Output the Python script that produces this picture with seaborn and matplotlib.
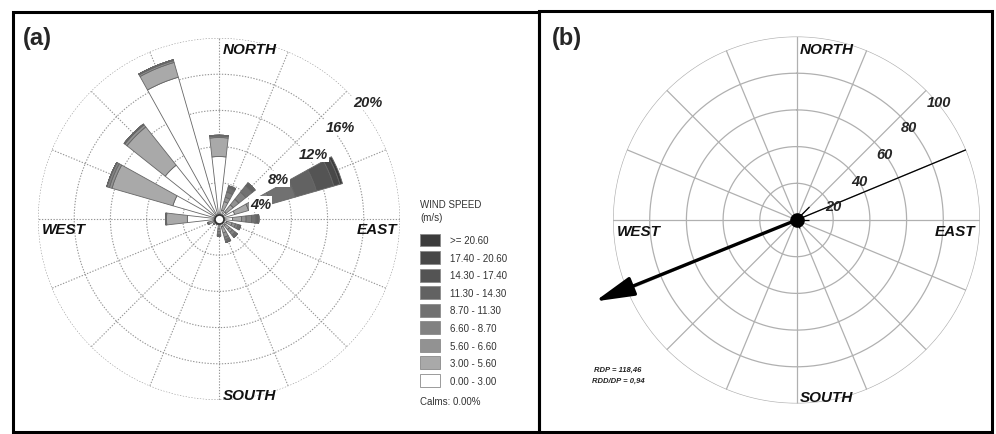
import numpy as np
import pandas as pd
import matplotlib
matplotlib.use("Agg")
import matplotlib.pyplot as plt
import seaborn as sns
from matplotlib.patches import Patch, Rectangle

# ---------------- data ----------------
directions = ["N", "NNE", "NE", "ENE", "E", "ESE", "SE", "SSE",
              "S", "SSW", "SW", "WSW", "W", "WNW", "NW", "NNW"]
direction_deg = [0, 22.5, 45, 67.5, 90, 112.5, 135, 157.5,
                 180, 202.5, 225, 247.5, 270, 292.5, 315, 337.5]

speed_bins = ["0.00 - 3.00", "3.00 - 5.60", "5.60 - 6.60", "6.60 - 8.70",
              "8.70 - 11.30", "11.30 - 14.30", "14.30 - 17.40",
              "17.40 - 20.60", ">= 20.60"]

# frequency (%) of each speed class, per direction (N ... NNW)
freq_0_3     = [6.9, 1.0, 1.0, 1.8, 1.5, 0.9, 0.9, 0.9, 0.6, 0.4, 0.5, 0.6, 3.5, 5.3, 7.6, 16.3]
freq_3_56    = [2.1, 1.0, 1.0, 1.6, 1.0, 0.6, 0.6, 0.7, 0.5, 0.2, 0.3, 0.6, 2.3, 7.0, 5.4, 1.7]
freq_56_66   = [0.15, 0.5, 0.8, 1.0, 0.5, 0.4, 0.4, 0.5, 0.3, 0.0, 0.0, 0.1, 0.05, 0.3, 0.3, 0.2]
freq_66_87   = [0.1, 0.6, 1.0, 1.6, 0.6, 0.3, 0.4, 0.3, 0.3, 0.0, 0.0, 0.0, 0.05, 0.3, 0.1, 0.1]
freq_87_113  = [0.0, 0.5, 0.9, 2.8, 0.5, 0.2, 0.2, 0.2, 0.2, 0.0, 0.0, 0.0, 0.0, 0.0, 0.0, 0.0]
freq_113_143 = [0.0, 0.2, 0.4, 2.4, 0.3, 0.1, 0.1, 0.1, 0.0, 0.0, 0.0, 0.0, 0.0, 0.0, 0.0, 0.0]
freq_143_174 = [0.0, 0.0, 0.0, 2.0, 0.0, 0.0, 0.0, 0.0, 0.0, 0.0, 0.0, 0.0, 0.0, 0.0, 0.0, 0.0]
freq_174_206 = [0.0, 0.0, 0.0, 0.7, 0.0, 0.0, 0.0, 0.0, 0.0, 0.0, 0.0, 0.0, 0.0, 0.0, 0.0, 0.0]
freq_206_up  = [0.0, 0.0, 0.0, 0.3, 0.0, 0.0, 0.0, 0.0, 0.0, 0.0, 0.0, 0.0, 0.0, 0.0, 0.0, 0.0]

speed_colors = ["#ffffff", "#a9a9a9", "#929292", "#818181", "#717171",
                "#626262", "#545454", "#484848", "#3c3c3c"]

rose_rings = [4, 8, 12, 16, 20]
rose_ring_labels = ["4%", "8%", "12%", "16%", "20%"]

# sand drift potential per direction (vector units), N ... NNW
drift_potential = [0, 2, 10, 100, 7, 2, 0, 5, 0, 0, 0, 0, 0, 0, 0, 0]
drift_rings = [20, 40, 60, 80, 100]
drift_ring_labels = ["20", "40", "60", "80", "100"]
RDP = 118.46
RDD = 248.0
RDD_DP = 0.94

# ---------------- style ----------------
sns.set_theme(style="white")
plt.rcParams["font.family"] = ["Liberation Sans", "DejaVu Sans"]

W, H = 996, 435
fig = plt.figure(figsize=(W / 100, H / 100), dpi=100)
fig.patch.set_facecolor("white")


def px_rect(left, top, right, bottom):
    return [left / W, 1 - bottom / H, (right - left) / W, (bottom - top) / H]


# long-form table of the rose
freq_cols = [freq_0_3, freq_3_56, freq_56_66, freq_66_87, freq_87_113,
             freq_113_143, freq_143_174, freq_174_206, freq_206_up]
rose = pd.DataFrame({b: v for b, v in zip(speed_bins, freq_cols)}, index=directions)
bottoms = rose.cumsum(axis=1) - rose

theta = np.deg2rad(direction_deg)
circ = np.linspace(0, 2 * np.pi, 400)


def setup_polar(ax, rmax):
    ax.set_theta_zero_location("N")
    ax.set_theta_direction(-1)
    ax.set_ylim(0, rmax)
    ax.grid(False)
    ax.set_xticks([])
    ax.set_yticks([])
    ax.spines["polar"].set_visible(False)
    ax.set_facecolor("none")


# ---------------- panel (a): wind rose ----------------
ax1 = fig.add_axes(px_rect(38, 39, 400, 401), projection="polar")
setup_polar(ax1, 20)
grid_kw = dict(color="#959595", lw=0.8, ls=(0, (1.2, 1.4)), zorder=1)
for r in rose_rings:
    ax1.plot(circ, np.full_like(circ, r), **grid_kw)
for t in theta:
    ax1.plot([t, t], [0, 20], **grid_kw)

bar_w = np.deg2rad(13)
for b, c in zip(speed_bins, speed_colors):
    ax1.bar(theta, rose[b].values, width=bar_w, bottom=bottoms[b].values,
            color=c, edgecolor="#666666", linewidth=0.6, zorder=3)
ax1.plot(0, 0, marker="o", ms=6.5, mfc="white", mec="#333333", mew=1.2, zorder=6)

rose_label_pos = [(70, 4.9), (56, 7.9), (55.6, 12.7), (52.7, 16.8), (51.7, 20.9)]
for (ang, rr), lab in zip(rose_label_pos, rose_ring_labels):
    ax1.text(np.deg2rad(ang), rr, lab, fontsize=10.5, fontweight="bold",
             fontstyle="italic", ha="center", va="center", zorder=7,
             bbox=dict(facecolor="white", edgecolor="none", pad=0.6))

dir_kw = dict(fontsize=11, fontweight="bold", fontstyle="italic", color="#111111")
ax1.text(0.511, 0.970, "NORTH", transform=ax1.transAxes, ha="left", va="center", **dir_kw)
ax1.text(0.011, 0.472, "WEST", transform=ax1.transAxes, ha="left", va="center", **dir_kw)
ax1.text(0.994, 0.472, "EAST", transform=ax1.transAxes, ha="right", va="center", **dir_kw)
ax1.text(0.511, 0.014, "SOUTH", transform=ax1.transAxes, ha="left", va="center", **dir_kw)

# legend of speed classes, darkest class on top
leg_kw = dict(fontsize=7, color="#333333", ha="left", va="center")
fig.text(420 / W, 1 - 205 / H, "WIND SPEED", **leg_kw)
fig.text(420 / W, 1 - 218 / H, "(m/s)", **leg_kw)
handles = [Patch(facecolor=c, edgecolor="#8a8a8a", linewidth=0.6)
           for c in speed_colors[::-1]]
leg = fig.legend(handles, speed_bins[::-1], loc="upper left",
                 bbox_to_anchor=(420 / W, 1 - 234.5 / H), frameon=False,
                 fontsize=7, handlelength=2.1, handleheight=1.68,
                 labelspacing=0.47, handletextpad=1.03, borderpad=0,
                 borderaxespad=0)
for t in leg.get_texts():
    t.set_color("#333333")
fig.text(420 / W, 1 - 402 / H, "Calms: 0.00%", **leg_kw)

# ---------------- panel (b): sand rose ----------------
ax2 = fig.add_axes(px_rect(613, 37, 980, 405), projection="polar")
setup_polar(ax2, 100)
grid2_kw = dict(color="#b0b0b0", lw=0.9, zorder=1)
for r in drift_rings:
    ax2.plot(circ, np.full_like(circ, r), **grid2_kw)
for t in theta:
    ax2.plot([t, t], [0, 100], **grid2_kw)

ax2.vlines(theta, 0, drift_potential, color="black", lw=0.9, zorder=3)
ax2.annotate("", xy=(np.deg2rad(RDD), RDP), xytext=(0, 0),
             arrowprops=dict(arrowstyle="-|>,head_length=2.4,head_width=0.6",
                             lw=2.4, color="black", shrinkA=0, shrinkB=0,
                             mutation_scale=10),
             annotation_clip=False, zorder=4)
ax2.plot(0, 0, marker="o", ms=9.5, color="black", zorder=5)

drift_label_pos = [(69, 21.3), (58, 40.3), (53, 60), (50.5, 79.6), (50.5, 100.8)]
for (ang, rr), lab in zip(drift_label_pos, drift_ring_labels):
    ax2.text(np.deg2rad(ang), rr, lab, fontsize=10.5, fontweight="bold",
             fontstyle="italic", ha="center", va="center", zorder=7)

ax2.text(0.51, 0.967, "NORTH", transform=ax2.transAxes, ha="left", va="center", **dir_kw)
ax2.text(0.011, 0.47, "WEST", transform=ax2.transAxes, ha="left", va="center", **dir_kw)
ax2.text(0.986, 0.47, "EAST", transform=ax2.transAxes, ha="right", va="center", **dir_kw)
ax2.text(0.51, 0.019, "SOUTH", transform=ax2.transAxes, ha="left", va="center", **dir_kw)

note_kw = dict(fontsize=5.5, fontweight="bold", fontstyle="italic", ha="center",
               va="center", color="#222222")
fig.text(618 / W, 1 - 370 / H, f"RDP = {RDP:.2f}".replace(".", ","), **note_kw)
fig.text(618 / W, 1 - 381 / H, f"RDD/DP = {RDD_DP:.2f}".replace(".", ","), **note_kw)

# ---------------- panel frames and letters ----------------
for l, t, r, b in [(13, 13, 539, 433), (539, 12, 992, 433)]:
    fig.add_artist(Rectangle((l / W, 1 - b / H), (r - l) / W, (b - t) / H,
                             transform=fig.transFigure, fill=False,
                             edgecolor="black", linewidth=2.2, zorder=10))
fig.text(23 / W, 1 - 39 / H, "(a)", fontsize=17, fontweight="bold", ha="left", va="center")
fig.text(552 / W, 1 - 39 / H, "(b)", fontsize=17, fontweight="bold", ha="left", va="center")

fig.savefig("out.png", dpi=100, facecolor="white")
